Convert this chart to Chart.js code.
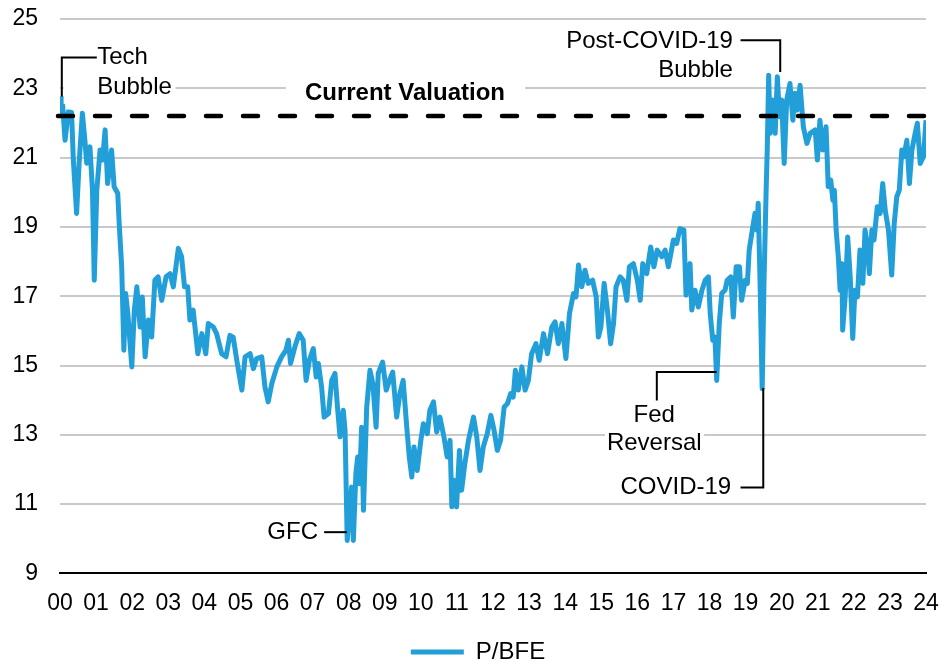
<!DOCTYPE html>
<html>
<head>
<meta charset="utf-8">
<script src="https://cdn.jsdelivr.net/npm/chart.js@4.4.1/dist/chart.umd.min.js"></script>
<style>
  html, body { margin: 0; padding: 0; background: #fff; }
  #wrap { width: 941px; height: 662px; }
</style>
</head>
<body>
<div id="wrap"><canvas id="pbfe-chart"></canvas></div>
<script>
// x position on the axis (00 = 0 ... 24 = 24)
const years = [
  0.00, 0.06, 0.14, 0.23, 0.32, 0.37, 0.46, 0.53, 0.62, 0.69, 0.74, 0.83, 0.90, 0.95,
  1.02, 1.11, 1.18, 1.25, 1.32, 1.43, 1.50, 1.60, 1.64, 1.71, 1.77, 1.82, 1.88, 1.99,
  2.06, 2.13, 2.22, 2.28, 2.36, 2.45, 2.54, 2.63, 2.72, 2.82, 2.94,
  3.05, 3.14, 3.28, 3.37, 3.45, 3.54, 3.60, 3.69, 3.82, 3.93,
  4.04, 4.11, 4.25, 4.34, 4.48, 4.60, 4.71, 4.80, 4.90,
  5.04, 5.13, 5.27, 5.36, 5.45, 5.59, 5.68, 5.77, 5.87,
  6.01, 6.14, 6.26, 6.33, 6.39, 6.51, 6.63, 6.74, 6.82, 6.91,
  7.02, 7.10, 7.16, 7.25, 7.32, 7.44, 7.53, 7.62, 7.69, 7.76, 7.85, 7.90, 7.96,
  8.08, 8.13, 8.20, 8.25, 8.30, 8.36, 8.41, 8.50, 8.59, 8.67, 8.76, 8.82, 8.94,
  9.04, 9.13, 9.22, 9.33, 9.42, 9.51, 9.61, 9.68, 9.75, 9.81, 9.90,
  10.00, 10.07, 10.18, 10.25, 10.35, 10.44, 10.53, 10.64, 10.73, 10.81, 10.86, 10.92, 10.99,
  11.07, 11.13, 11.22, 11.32, 11.46, 11.55, 11.64, 11.73, 11.84, 11.94,
  12.03, 12.12, 12.21, 12.31, 12.40, 12.49, 12.56, 12.62, 12.70, 12.80, 12.89, 12.98,
  13.07, 13.19, 13.28, 13.40, 13.51, 13.63, 13.72, 13.81, 13.91,
  14.02, 14.12, 14.23, 14.30, 14.37, 14.46, 14.55, 14.64, 14.76, 14.86, 14.92, 14.99,
  15.08, 15.17, 15.26, 15.34, 15.41, 15.52, 15.61, 15.71, 15.78, 15.89,
  16.00, 16.08, 16.15, 16.26, 16.37, 16.46, 16.55, 16.68, 16.77, 16.86,
  17.00, 17.09, 17.18, 17.29, 17.35, 17.46, 17.51, 17.60, 17.69, 17.79, 17.88, 17.97,
  18.02, 18.09, 18.15, 18.20, 18.27, 18.34, 18.43, 18.49, 18.59, 18.66, 18.74, 18.83, 18.89, 18.99,
  19.05, 19.10, 19.20, 19.26, 19.31, 19.35, 19.40, 19.46, 19.51, 19.57, 19.60, 19.64, 19.68, 19.75, 19.82, 19.88, 19.94,
  20.00, 20.07, 20.14, 20.23, 20.31, 20.37, 20.43, 20.51, 20.60, 20.70, 20.79, 20.93, 20.99,
  21.06, 21.14, 21.23, 21.29, 21.36, 21.42, 21.46, 21.51, 21.57, 21.62, 21.67, 21.69, 21.76, 21.83, 21.90, 21.97,
  22.03, 22.10, 22.17, 22.25, 22.31, 22.37, 22.43, 22.50, 22.56, 22.65, 22.73, 22.80, 22.87, 22.96,
  23.05, 23.12, 23.19, 23.26, 23.33, 23.39, 23.47, 23.54, 23.61, 23.70, 23.76, 23.84, 23.93, 24.00
];

// forward P/E (P/BFE) at each point
const pbfe = [
  22.18, 22.71, 21.50, 22.32, 22.30, 20.93, 19.39, 20.84, 22.28, 21.50, 20.84, 21.31, 20.06, 17.46,
  20.06, 21.22, 20.93, 21.80, 20.25, 21.22, 20.16, 19.97, 19.10, 17.85, 15.44, 17.08, 16.50, 14.96,
  16.60, 17.27, 16.11, 16.98, 15.25, 16.31, 15.82, 17.46, 17.56, 16.88, 17.56,
  17.65, 17.27, 18.38, 18.14, 17.27, 17.27, 16.31, 16.60, 15.34, 15.92,
  15.34, 16.21, 16.11, 15.92, 15.34, 15.25, 15.87, 15.82, 15.15,
  14.29, 15.25, 15.34, 14.91, 15.20, 15.25, 14.38, 13.95, 14.48,
  14.96, 15.25, 15.44, 15.73, 15.06, 15.54, 15.92, 15.73, 14.57, 15.15,
  15.49, 14.67, 15.06, 14.38, 13.51, 13.61, 14.57, 14.77, 13.80, 12.94, 13.71, 13.13, 9.95,
  11.49, 9.95, 11.88, 12.36, 11.59, 13.22, 10.82, 13.80, 14.86, 14.48, 13.22, 14.77, 15.10,
  14.29, 14.57, 14.81, 13.51, 14.19, 14.57, 13.22, 12.36, 11.78, 12.65, 11.97,
  12.84, 13.32, 13.03, 13.71, 13.95, 13.08, 13.51, 12.94, 12.36, 12.84, 10.92, 11.69, 10.92,
  12.55, 11.40, 12.17, 12.84, 13.51, 12.94, 11.97, 12.65, 13.03, 13.56,
  13.13, 12.55, 12.84, 13.80, 13.90, 14.19, 14.09, 14.86, 14.29, 14.96, 14.29, 14.57,
  15.34, 15.63, 15.15, 15.92, 15.34, 16.11, 16.26, 15.63, 16.21,
  15.20, 16.50, 17.08, 16.98, 17.90, 17.27, 17.75, 17.37, 17.46, 16.98, 15.82, 16.11,
  17.37, 16.60, 15.63, 16.21, 17.27, 17.56, 17.46, 16.88, 17.85, 17.94,
  17.46, 16.88, 17.94, 17.65, 18.42, 17.85, 18.33, 18.14, 18.33, 17.85,
  18.62, 18.52, 18.95, 18.91, 17.03, 17.94, 16.60, 17.17, 16.69, 17.17, 17.46, 17.56,
  16.50, 15.73, 15.82, 14.57, 16.21, 17.08, 17.17, 17.46, 17.56, 16.40, 17.85, 17.85, 16.88, 17.46,
  17.37, 18.33, 19.00, 19.39, 18.91, 19.68, 17.46, 14.33, 17.37, 20.06, 21.22, 23.38, 21.70, 22.66, 21.70, 23.33, 22.18,
  22.66, 20.83, 22.66, 23.14, 22.08, 22.86, 22.37, 23.09, 21.89, 21.41, 21.70, 21.80, 20.93,
  22.08, 21.22, 21.89, 20.16, 20.35, 19.77, 20.06, 18.91, 18.14, 17.17, 17.94, 16.02, 16.98, 18.71, 17.56, 15.78,
  17.17, 16.98, 18.33, 17.37, 18.91, 18.52, 17.65, 18.91, 18.62, 19.58, 19.39, 20.25, 19.48, 18.91,
  17.61, 19.10, 19.87, 20.06, 21.22, 21.03, 21.50, 20.25, 21.22, 21.70, 21.99, 20.83, 21.03, 22.08
];

const yearLabels = ['00', '01', '02', '03', '04', '05', '06', '07', '08', '09', '10', '11',
  '12', '13', '14', '15', '16', '17', '18', '19', '20', '21', '22', '23', '24'];
const yTicks = [9, 11, 13, 15, 17, 19, 21, 23, 25];
const currentValuation = 22.2;

const FONT = '"Liberation Sans", Arial, sans-serif';
const BLUE = '#229FD9';

// callouts: text lines plus leader paths, all in axis units
const notes = [
  { lines: ['Tech', 'Bubble'], at: [[1.03, 23.90], [1.03, 23.04]], align: 'left',
    path: [[0.05, 22.76], [0.05, 23.89], [1.02, 23.89]], cover: [0.1, 3.2, 23.42, 22.55] },
  { lines: ['Current Valuation'], at: [[9.56, 22.86]], align: 'center', bold: true,
    path: null, cover: [6.26, 12.89, 23.33, 22.40] },
  { lines: ['Post-COVID-19', 'Bubble'], at: [[18.65, 24.34], [18.65, 23.53]], align: 'right',
    path: [[18.86, 24.39], [19.96, 24.39], [19.96, 23.47]] },
  { lines: ['Fed', 'Reversal'], at: [[16.47, 13.56], [16.47, 12.75]], align: 'center',
    path: [[16.54, 13.99], [16.54, 14.81], [18.20, 14.81]], cover: [15.1, 17.85, 13.15, 12.35] },
  { lines: ['COVID-19'], at: [[18.60, 11.48]], align: 'right',
    path: [[18.86, 11.48], [19.49, 11.48], [19.49, 14.35]] },
  { lines: ['GFC'], at: [[7.15, 10.18]], align: 'right',
    path: [[7.32, 10.19], [7.95, 10.19]] }
];

const notesPlugin = {
  id: 'pbfeNotes',
  afterLayout(chart) {
    // the original legend sits a little right of centre
    chart.legend.left += 15;
    chart.legend.right += 15;
  },
  afterDatasetsDraw(chart) {
    const { ctx, chartArea, scales: { x, y } } = chart;
    const px = v => x.getPixelForValue(v);
    const py = v => y.getPixelForValue(v);
    ctx.save();

    // white patches behind labels (they hide the gridline underneath)
    notes.forEach(n => {
      if (!n.cover) return;
      const [x0, x1, y0, y1] = n.cover;
      ctx.fillStyle = '#fff';
      ctx.fillRect(px(x0), py(y0), px(x1) - px(x0), py(y1) - py(y0));
    });

    // current valuation dashed line
    ctx.strokeStyle = '#000';
    ctx.lineWidth = 4.5;
    ctx.lineCap = 'round';
    ctx.setLineDash([15, 22]);
    ctx.beginPath();
    ctx.moveTo(chartArea.left - 2, py(currentValuation));
    ctx.lineTo(chartArea.right + 2, py(currentValuation));
    ctx.stroke();

    // leader lines
    ctx.setLineDash([]);
    ctx.lineCap = 'butt';
    ctx.lineWidth = 2;
    notes.forEach(n => {
      if (!n.path) return;
      ctx.beginPath();
      n.path.forEach(([a, b], i) => {
        if (i === 0) ctx.moveTo(px(a), py(b));
        else ctx.lineTo(px(a), py(b));
      });
      ctx.stroke();
    });

    // texts
    ctx.fillStyle = '#000';
    ctx.textBaseline = 'middle';
    notes.forEach(n => {
      ctx.font = (n.bold ? 'bold ' : '') + '24px ' + FONT;
      ctx.textAlign = n.align;
      n.lines.forEach((t, i) => {
        ctx.fillText(t, px(n.at[i][0]), py(n.at[i][1]));
      });
    });
    ctx.restore();
  }
};

new Chart(document.getElementById('pbfe-chart').getContext('2d'), {
  type: 'line',
  data: {
    datasets: [{
      label: 'P/BFE',
      data: years.map((yr, i) => ({ x: yr, y: pbfe[i] })),
      borderColor: BLUE,
      backgroundColor: BLUE,
      borderWidth: 5,
      borderJoinStyle: 'round',
      pointRadius: 0,
      tension: 0
    }]
  },
  options: {
    responsive: true,
    maintainAspectRatio: false,
    animation: false,
    layout: { padding: { top: 19, right: 15, left: 0, bottom: -12 } },
    plugins: {
      tooltip: { enabled: false },
      legend: {
        position: 'bottom',
        labels: {
          boxWidth: 53,
          boxHeight: 5,
          color: '#000',
          padding: 7,
          font: { family: FONT, size: 24 },
          // flat swatch, no outline around it
          generateLabels: chart => Chart.defaults.plugins.legend.labels.generateLabels(chart)
            .map(item => ({ ...item, lineWidth: 0 }))
        }
      }
    },
    scales: {
      x: {
        type: 'linear',
        min: 0,
        max: 24,
        afterFit: scale => { scale.paddingLeft = 0; scale.paddingRight = 0; },
        grid: { display: false, drawTicks: false },
        border: { display: true, color: '#000', width: 2 },
        ticks: {
          stepSize: 1,
          padding: 16,
          color: '#000',
          maxRotation: 0,
          autoSkip: false,
          font: { family: FONT, size: 23 },
          callback: value => yearLabels[value]
        }
      },
      y: {
        min: 9,
        max: 25,
        afterBuildTicks: scale => { scale.ticks = yTicks.map(v => ({ value: v })); },
        afterFit: scale => { scale.width = 60; scale.paddingTop = 0; scale.paddingBottom = 0; },
        grid: {
          drawTicks: false,
          lineWidth: 2,
          color: ctx => (ctx.tick && ctx.tick.value === 9 ? 'rgba(0,0,0,0)' : '#C9C9C9')
        },
        border: { display: false },
        ticks: {
          padding: 22,
          color: '#000',
          font: { family: FONT, size: 23 }
        }
      }
    }
  },
  plugins: [notesPlugin]
});
</script>
</body>
</html>
